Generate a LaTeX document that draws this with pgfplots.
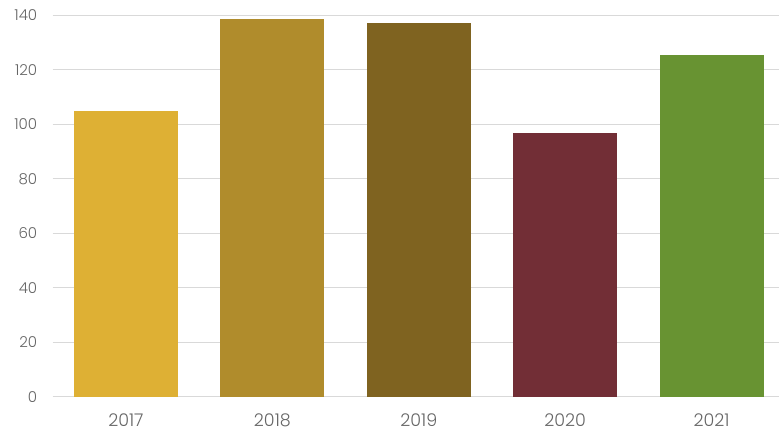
\documentclass[border=0pt]{standalone}
\usepackage{fontspec}
\setmainfont{Poppins}[UprightFont=* Light]
\usepackage{pgfplots}
\pgfplotsset{compat=1.18}
\definecolor{c1}{HTML}{DEB034}
\definecolor{c2}{HTML}{B08C2C}
\definecolor{c3}{HTML}{7F6320}
\definecolor{c4}{HTML}{722E36}
\definecolor{c5}{HTML}{689332}
\definecolor{gridc}{HTML}{D9D9D9}
\definecolor{txt}{HTML}{666666}
\begin{document}
\begin{tikzpicture}
\useasboundingbox (0pt,0pt) rectangle (780pt,432pt);
\begin{axis}[
  at={(52.75pt,35.2pt)}, anchor=south west,
  scale only axis, width=726.25pt, height=381.5pt,
  xmin=-0.5, xmax=4.46, ymin=0, ymax=140,
  ytick={0,20,...,140},
  xtick={0,1,2,3,4},
  xticklabels={2017,2018,2019,2020,2021},
  axis line style={draw=none},
  major tick length=0pt,
  ymajorgrids, grid style={gridc, line width=1pt},
  ybar, bar width=104pt, bar shift=0pt,
  ticklabel style={text=txt},
  /pgf/number format/assume math mode=true,
  yticklabel style={font=\fontsize{15}{17}\selectfont, xshift=-12pt},
  xticklabel style={font=\fontsize{17.5}{19}\selectfont, inner sep=0pt, yshift=-16.5pt},
  clip=false,
]
\addplot[fill=c1, draw=none] coordinates {(0,105)};
\addplot[fill=c2, draw=none] coordinates {(1,138.6)};
\addplot[fill=c3, draw=none] coordinates {(2,137.2)};
\addplot[fill=c4, draw=none] coordinates {(3,96.8)};
\addplot[fill=c5, draw=none] coordinates {(4,125.4)};
\end{axis}
\end{tikzpicture}
\end{document}
